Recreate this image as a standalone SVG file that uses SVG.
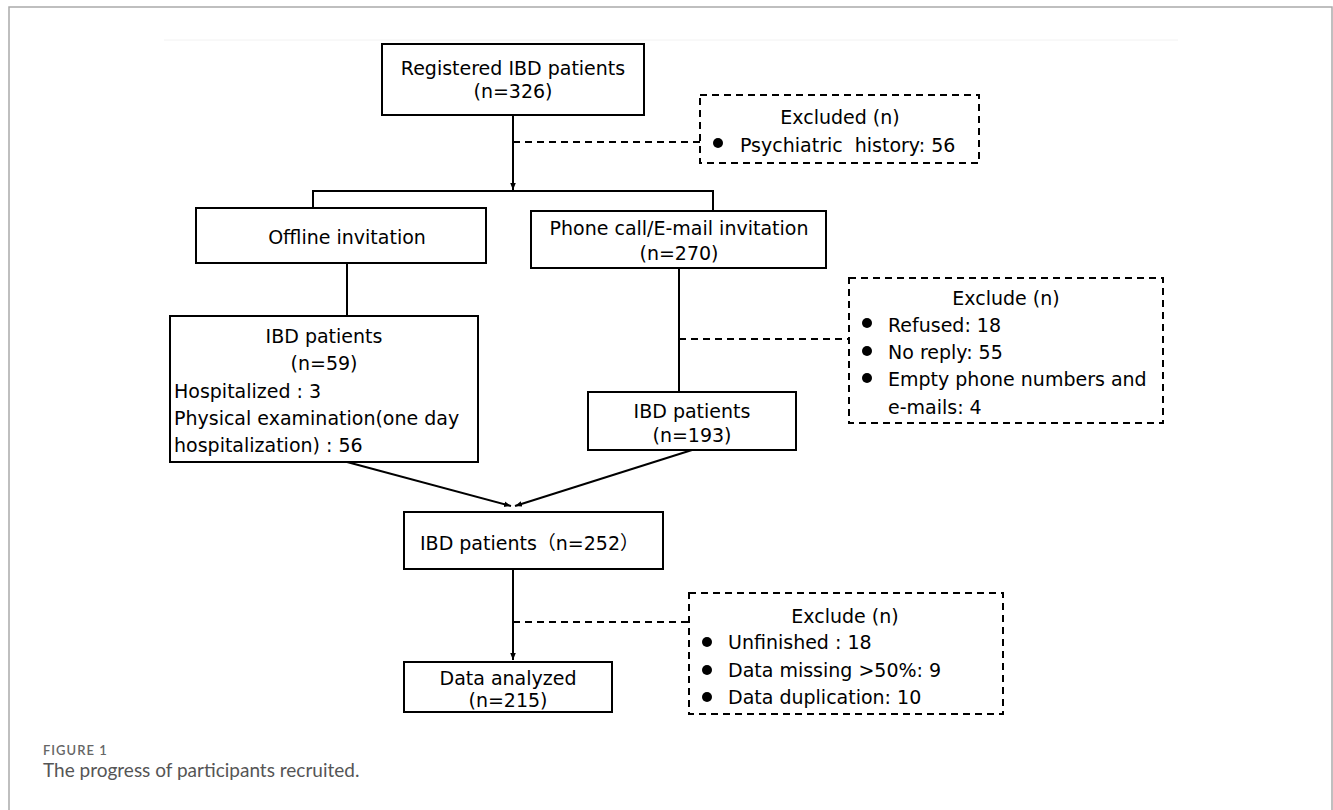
<svg xmlns="http://www.w3.org/2000/svg" width="1333" height="810" viewBox="0 0 1333 810">
<defs>
<style>
.box{fill:#fff;stroke:#000;stroke-width:2}
.dbox{fill:#fff;stroke:#000;stroke-width:2;stroke-dasharray:7,5}
.ln{fill:none;stroke:#000;stroke-width:2}
.dl{fill:none;stroke:#000;stroke-width:2;stroke-dasharray:7,5}
.t{font-family:"DejaVu Sans","Noto Sans CJK SC",sans-serif;font-size:19px;fill:#000}
.c{text-anchor:middle}
.cap1{font-family:Lato,"Open Sans",sans-serif;font-size:13px;font-weight:600;fill:#666;letter-spacing:1px}
.cap2{font-family:Lato,"Open Sans",sans-serif;font-size:19px;fill:#555}
</style>
<marker id="ah" viewBox="0 0 10 10" refX="10" refY="5" markerWidth="7" markerHeight="7" orient="auto" markerUnits="userSpaceOnUse">
<path d="M0,1 L10,5 L0,9 z" fill="#000"/>
</marker>
</defs>
<rect width="1333" height="810" fill="#fff"/>
<path d="M9,810 V7 H1332 V810" fill="none" stroke="#aaa" stroke-width="1.5"/>
<line x1="164" y1="40" x2="1178" y2="40" stroke="#f2f2f2" stroke-width="1"/>

<g id="connectors">
<line class="ln" x1="513" y1="115" x2="513" y2="190" marker-end="url(#ah)"/>
<path class="ln" d="M313,208 V191 H713 V211"/>
<line class="ln" x1="347" y1="263" x2="347" y2="316"/>
<line class="ln" x1="679" y1="268" x2="679" y2="392"/>
<line class="ln" x1="347" y1="462" x2="511" y2="506" marker-end="url(#ah)"/>
<line class="ln" x1="692" y1="450" x2="515" y2="506" marker-end="url(#ah)"/>
<line class="ln" x1="513" y1="569" x2="513" y2="660" marker-end="url(#ah)"/>
<line class="dl" x1="513" y1="142" x2="700" y2="142"/>
<line class="dl" x1="679" y1="339" x2="862" y2="339"/>
<line class="dl" x1="513" y1="622" x2="689" y2="622"/>
</g>

<g id="registered">
<rect class="box" x="382" y="44" width="262" height="71"/>
<text class="t c" x="513" y="75">Registered IBD patients</text>
<text class="t c" x="513" y="98">(n=326)</text>
</g>

<g id="excluded1">
<rect class="dbox" x="700" y="95" width="279" height="68"/>
<text class="t c" x="840" y="124">Excluded (n)</text>
<circle cx="718" cy="143" r="5"/>
<text class="t" x="740" y="152" xml:space="preserve">Psychiatric  history: 56</text>
</g>

<g id="offline">
<rect class="box" x="196" y="208" width="290" height="55"/>
<text class="t c" x="347" y="244">Offline invitation</text>
</g>

<g id="phone">
<rect class="box" x="531" y="211" width="295" height="57"/>
<text class="t c" x="679" y="235">Phone call/E-mail invitation</text>
<text class="t c" x="679" y="260">(n=270)</text>
</g>

<g id="ibd59">
<rect class="box" x="170" y="316" width="308" height="146"/>
<text class="t c" x="324" y="343">IBD patients</text>
<text class="t c" x="324" y="370">(n=59)</text>
<text class="t" x="174" y="398">Hospitalized : 3</text>
<text class="t" x="174" y="425">Physical examination(one day</text>
<text class="t" x="174" y="452">hospitalization) : 56</text>
</g>

<g id="exclude2">
<rect class="dbox" x="849" y="278" width="314" height="145"/>
<text class="t c" x="1006" y="305">Exclude (n)</text>
<circle cx="867" cy="323" r="5"/>
<text class="t" x="888" y="332">Refused: 18</text>
<circle cx="867" cy="351" r="5"/>
<text class="t" x="888" y="359">No reply: 55</text>
<circle cx="867" cy="378" r="5"/>
<text class="t" x="888" y="386">Empty phone numbers and</text>
<text class="t" x="888" y="414">e-mails: 4</text>
</g>

<g id="ibd193">
<rect class="box" x="588" y="392" width="208" height="58"/>
<text class="t c" x="692" y="418">IBD patients</text>
<text class="t c" x="692" y="442">(n=193)</text>
</g>

<g id="ibd252">
<rect class="box" x="404" y="512" width="259" height="57"/>
<text class="t" x="420" y="550">IBD patients（n=252）</text>
</g>

<g id="analyzed">
<rect class="box" x="404" y="662" width="208" height="50"/>
<text class="t c" x="508" y="685">Data analyzed</text>
<text class="t c" x="508" y="707">(n=215)</text>
</g>

<g id="exclude3">
<rect class="dbox" x="689" y="593" width="314" height="121"/>
<text class="t c" x="845" y="623">Exclude (n)</text>
<circle cx="707" cy="642" r="5"/>
<text class="t" x="728" y="649">Unfinished : 18</text>
<circle cx="707" cy="670" r="5"/>
<text class="t" x="728" y="677">Data missing &gt;50%: 9</text>
<circle cx="707" cy="697" r="5"/>
<text class="t" x="728" y="704">Data duplication: 10</text>
</g>

<g id="caption">
<text class="cap1" x="43" y="755">FIGURE 1</text>
<text class="cap2" x="43" y="777">The progress of participants recruited.</text>
</g>
</svg>
